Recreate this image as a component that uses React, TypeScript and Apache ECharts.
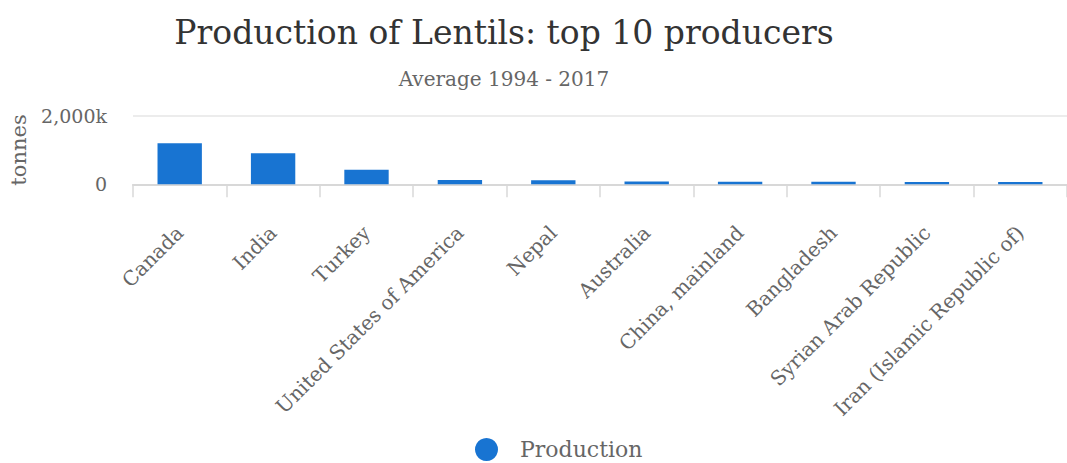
import React, { useEffect, useRef } from "react";
import * as echarts from "echarts";

const categories = [
  "Canada",
  "India",
  "Turkey",
  "United States of America",
  "Nepal",
  "Australia",
  "China, mainland",
  "Bangladesh",
  "Syrian Arab Republic",
  "Iran (Islamic Republic of)",
];
const production = [1195000, 904000, 426000, 125000, 120000, 80000, 75000, 72000, 70000, 68000];
const yTicks = [0, 2000000];

const FONT = "'DejaVu Serif', serif";

export default function App() {
  const ref = useRef<HTMLDivElement>(null);
  useEffect(() => {
    document.body.style.margin = "0";
    const chart = echarts.init(ref.current!, null, { renderer: "svg" });
    chart.setOption({
      animation: false,
      textStyle: { fontFamily: FONT },
      title: [
        {
          text: "Production of Lentils: top 10 producers",
          left: 499,
          textAlign: "center",
          top: 11,
          textStyle: { fontFamily: FONT, fontSize: 33, fontWeight: "normal", color: "#333" },
        },
        {
          text: "Average 1994 - 2017",
          left: 499,
          textAlign: "center",
          top: 64,
          textStyle: { fontFamily: FONT, fontSize: 20, fontWeight: "normal", color: "#666" },
        },
      ],
      legend: {
        top: 433,
        left: 470,
        icon: "circle",
        itemWidth: 23,
        itemHeight: 23,
        itemGap: 10,
        textStyle: { fontFamily: FONT, fontSize: 22, color: "#666", padding: [0, 0, 0, 17] },
        data: ["Production"],
      },
      grid: { left: 127.4, right: -7.4, top: 115.7, bottom: 278.7, containLabel: false },
      xAxis: {
        type: "category",
        data: categories,
        axisLine: { lineStyle: { color: "#d8d8d8", width: 2 } },
        axisTick: { show: true, length: 13, lineStyle: { color: "#d8d8d8", width: 1.5 } },
        axisLabel: {
          rotate: 45,
          fontFamily: FONT,
          fontSize: 20,
          color: "#666",
          interval: 0,
          margin: 45,
        },
      },
      yAxis: {
        type: "value",
        min: 0,
        max: 2000000,
        interval: 2000000,
        name: "tonnes",
        nameLocation: "middle",
        nameGap: 104,
        nameRotate: 90,
        nameTextStyle: { fontFamily: FONT, fontSize: 21, color: "#666" },
        axisLabel: {
          fontFamily: FONT,
          fontSize: 19,
          color: "#666",
          margin: 26,
          formatter: (v: number) => (yTicks.includes(v) ? (v === 0 ? "0" : (v / 1000).toLocaleString("en-US") + "k") : ""),
        },
        splitLine: { lineStyle: { color: "#e6e6e6", width: 1.5 } },
        axisLine: { show: false },
        axisTick: { show: false },
      },
      series: [
        {
          name: "Production",
          type: "bar",
          data: production,
          barWidth: "47.5%",
          itemStyle: { color: "#1874d2" },
        },
      ],
    });
    return () => chart.dispose();
  }, []);
  return <div ref={ref} style={{ width: 1067, height: 463 }} />;
}
